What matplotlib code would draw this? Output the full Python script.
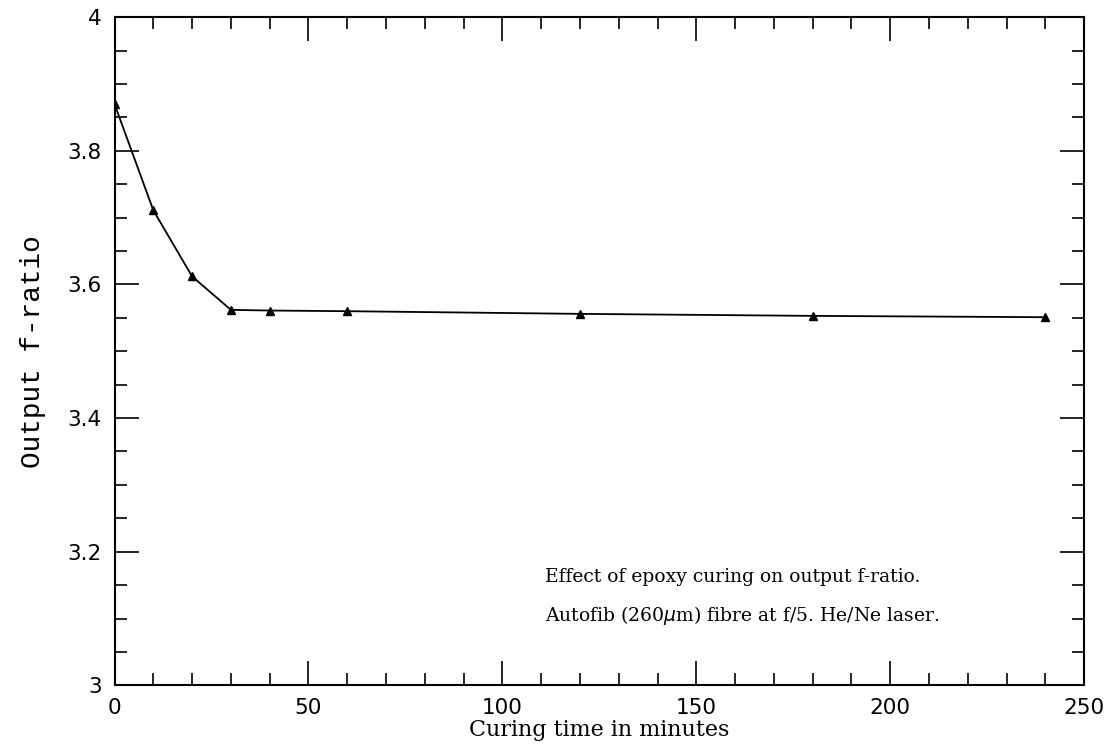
import matplotlib
matplotlib.use("Agg")
import matplotlib.pyplot as plt
from matplotlib.ticker import MultipleLocator

# curing time (minutes) and measured output f-ratio
tempo = [0, 10, 20, 30, 40, 60, 120, 180, 240]
fratio = [3.87, 3.711, 3.612, 3.562, 3.561, 3.560, 3.556, 3.553, 3.551]

fig = plt.figure(figsize=(11.12, 7.49), dpi=100)
ax = fig.add_axes([0.103, 0.085, 0.872, 0.892])

ax.plot(tempo, fratio, color="black", lw=1.3, marker="^", ms=6,
        markerfacecolor="black", markeredgecolor="black")

ax.set_xlim(0, 250)
ax.set_ylim(3, 4)

# ticks on all four sides, pointing inward
ax.xaxis.set_major_locator(MultipleLocator(50))
ax.xaxis.set_minor_locator(MultipleLocator(10))
ax.yaxis.set_major_locator(MultipleLocator(0.2))
ax.yaxis.set_minor_locator(MultipleLocator(0.05))
ax.tick_params(which="both", direction="in", top=True, right=True, width=1.2, colors="black")
ax.tick_params(which="major", length=17, pad=9, labelsize=15.5)
ax.tick_params(which="minor", length=8.5)
ax.set_yticks([3, 3.2, 3.4, 3.6, 3.8, 4])
ax.set_yticklabels(["3", "3.2", "3.4", "3.6", "3.8", "4"])
for s in ax.spines.values():
    s.set_linewidth(1.5)

ax.set_xlabel("Curing time in minutes", family="DejaVu Serif", fontsize=16, labelpad=1)
ax.set_ylabel("Output f-ratio", family="Liberation Mono", fontsize=20, labelpad=16)

ax.text(111, 3.162, "Effect of epoxy curing on output f-ratio.",
        family="DejaVu Serif", fontsize=13.5, va="center")
ax.text(111, 3.105, r"Autofib (260$\mu$m) fibre at f/5. He/Ne laser.",
        family="DejaVu Serif", fontsize=13.5, va="center")

fig.savefig("out.png", dpi=100)
